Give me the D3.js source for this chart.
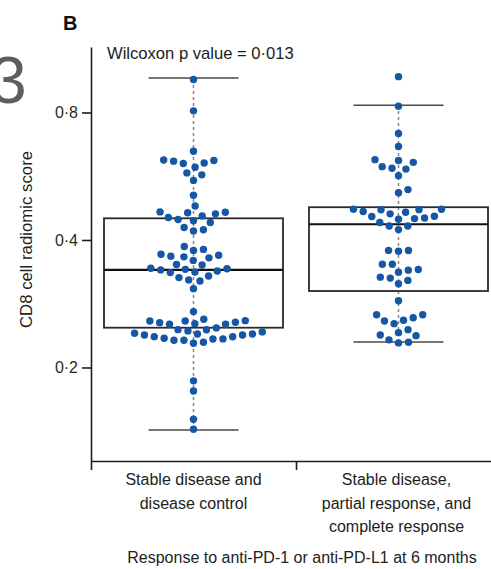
<!DOCTYPE html>
<html>
<head>
<meta charset="utf-8">
<script src="https://cdn.jsdelivr.net/npm/d3@7"></script>
<style>
  body { margin: 0; background: #fff; }
  svg { display: block; font-family: "Liberation Sans", Arial, sans-serif; }
</style>
</head>
<body>
<svg id="chart" width="491" height="569"></svg>
<script>
// groups on the x axis
const groups = ["sd", "pr"];
const groupLabels = [
  ["Stable disease and", "disease control"],
  ["Stable disease,", "partial response, and", "complete response"]
];

// CD8 cell radiomic score per patient
const scoresSD = [0.957, 0.807, 0.648, 0.618, 0.616, 0.614, 0.608, 0.606, 0.594, 0.576,
  0.570, 0.553, 0.510, 0.481, 0.466, 0.465, 0.464, 0.461, 0.456, 0.452,
  0.447, 0.444, 0.440, 0.428, 0.423, 0.420, 0.386, 0.380, 0.378, 0.370,
  0.368, 0.366, 0.365, 0.363, 0.358, 0.350, 0.349, 0.343, 0.342, 0.341,
  0.340, 0.338, 0.336, 0.335, 0.329, 0.326, 0.322, 0.320, 0.307, 0.271,
  0.260, 0.258, 0.2576, 0.2575, 0.2558, 0.2552, 0.2538, 0.2530, 0.2529, 0.2480,
  0.2457, 0.2455, 0.2440, 0.2427, 0.2410, 0.2400, 0.2399, 0.2387, 0.2386, 0.2365,
  0.2364, 0.2345, 0.2336, 0.2335, 0.2320, 0.2319, 0.2295, 0.2282, 0.186, 0.176,
  0.151, 0.143];
const scoresPR = [0.972, 0.828, 0.714, 0.665, 0.619, 0.616, 0.610, 0.596, 0.591, 0.588,
  0.567, 0.526, 0.517, 0.473, 0.4727, 0.4717, 0.4716, 0.467, 0.465, 0.461,
  0.455, 0.4543, 0.4507, 0.4493, 0.4476, 0.4397, 0.4317, 0.4316, 0.4232, 0.378,
  0.3779, 0.3762, 0.3507, 0.3505, 0.3408, 0.3395, 0.3358, 0.3268, 0.3251, 0.3211,
  0.3152, 0.2875, 0.2665, 0.2664, 0.2622, 0.2585, 0.2576, 0.2538, 0.2457, 0.2417,
  0.2387, 0.2378, 0.2324, 0.2295, 0.2286];

// box summary: lower whisker, q1, median, q3, upper whisker
const boxSD = [0.1424, 0.2483, 0.340, 0.450, 0.965];
const boxPR = [0.2297, 0.3031, 0.4357, 0.478, 0.832];

const yTicks = [0.2, 0.4, 0.8];
const yDomain = [0.1203, 1.142];

const series = [
  { key: "sd", values: scoresSD, box: boxSD },
  { key: "pr", values: scoresPR, box: boxPR }
];

const svg = d3.select("#chart");
const plotTop = 47, plotBottom = 461, plotLeft = 91;

const y = d3.scaleLog().base(2).domain(yDomain).range([plotBottom, plotTop]);
const x = d3.scaleBand().domain(groups).range([plotLeft, 501]).padding(0);
const bw = x.bandwidth();
const boxW = 179, capW = 90, dotR = 3.7, gap = 10;

// beeswarm: lowest value first, each dot goes to the free spot closest to the centre
function swarm(values) {
  const pts = values.map(v => ({ v: v, y: y(v), dx: 0 })).sort((a, b) => b.y - a.y);
  const placed = [];
  pts.forEach(p => {
    const near = placed.filter(q => Math.abs(q.y - p.y) < gap);
    const cands = [0];
    near.forEach(q => {
      const w = Math.sqrt(gap * gap - (q.y - p.y) ** 2);
      cands.push(q.dx + w, q.dx - w);
    });
    const ok = cands.filter(c => near.every(q => (c - q.dx) ** 2 + (p.y - q.y) ** 2 >= gap * gap - 1e-6));
    ok.sort((a, b) => Math.abs(a) - Math.abs(b));
    p.dx = ok[0];
    placed.push(p);
  });
  return pts;
}

// stray glyph from the neighbouring panel (cut by the page edge) and the panel letter
svg.append("text").attr("x", -10).attr("y", 103).attr("font-size", 66).attr("fill", "#5e5e5e").text("3");
svg.append("text").attr("x", 63).attr("y", 30).attr("font-size", 20).attr("font-weight", "bold").attr("fill", "#111").text("B");

svg.append("text").attr("x", 107).attr("y", 59).attr("font-size", 16.6).attr("fill", "#1c1c1c")
  .text("Wilcoxon p value = 0·013");

// boxes, whiskers, dots
series.forEach(s => {
  const cx = x(s.key) + bw / 2;
  const [lo, q1, med, q3, hi] = s.box;
  const g = svg.append("g");

  g.append("line").attr("x1", cx).attr("x2", cx).attr("y1", y(lo)).attr("y2", y(hi))
    .attr("stroke", "#888").attr("stroke-width", 1.5).attr("stroke-dasharray", "3,3");

  g.append("rect").attr("x", cx - boxW / 2).attr("y", y(q3)).attr("width", boxW).attr("height", y(q1) - y(q3))
    .attr("fill", "none").attr("stroke", "#2a2a2a").attr("stroke-width", 1.8);
  g.append("line").attr("x1", cx - boxW / 2).attr("x2", cx + boxW / 2).attr("y1", y(med)).attr("y2", y(med))
    .attr("stroke", "#111").attr("stroke-width", 2.2);

  [lo, hi].forEach(v => {
    g.append("line").attr("x1", cx - capW / 2).attr("x2", cx + capW / 2).attr("y1", y(v)).attr("y2", y(v))
      .attr("stroke", "#4a4a4a").attr("stroke-width", 1.6);
  });

  g.selectAll("circle").data(swarm(s.values)).join("circle")
    .attr("cx", d => cx + d.dx).attr("cy", d => d.y).attr("r", dotR)
    .attr("fill", "#1557a6");
});

// y axis
svg.append("g").attr("transform", `translate(${plotLeft},0)`).attr("color", "#1e1e1e")
  .call(d3.axisLeft(y).tickValues(yTicks).tickSize(9).tickPadding(4).tickSizeOuter(0)
    .tickFormat(d => d3.format(".1f")(d).replace(".", "·")))
  .call(a => a.selectAll("path, line").attr("stroke-width", 1.6))
  .call(a => a.selectAll("text").attr("font-size", 16).attr("font-family", "Liberation Sans, Arial, sans-serif").attr("fill", "#2a2a2a"));

// x axis with ticks at the group boundaries
const xEdges = d3.scaleLinear().domain([0, groups.length]).range(x.range());
svg.append("g").attr("transform", `translate(0,${plotBottom})`).attr("color", "#1e1e1e")
  .call(d3.axisBottom(xEdges).ticks(groups.length).tickFormat("").tickSize(9).tickSizeOuter(0))
  .call(a => a.selectAll("path, line").attr("stroke-width", 1.6));

groups.forEach((k, i) => {
  const t = svg.append("text").attr("text-anchor", "middle").attr("font-size", 16).attr("fill", "#222");
  groupLabels[i].forEach((line, j) => {
    t.append("tspan").attr("x", x(k) + bw / 2 - (i ? 2 : 0)).attr("y", 485 + j * 23.5).text(line);
  });
});

svg.append("text").attr("x", 302).attr("y", 563).attr("text-anchor", "middle").attr("font-size", 16)
  .attr("fill", "#222").text("Response to anti-PD-1 or anti-PD-L1 at 6 months");

svg.append("text").attr("transform", `translate(32,${(151 + 328) / 2}) rotate(-90)`)
  .attr("text-anchor", "middle").attr("font-size", 16.8).attr("fill", "#222")
  .text("CD8 cell radiomic score");
</script>
</body>
</html>
